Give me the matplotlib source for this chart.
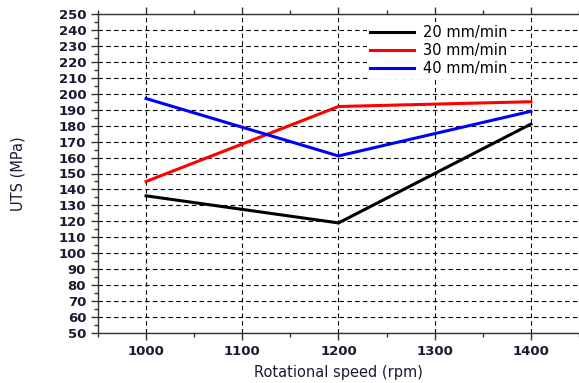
import matplotlib
matplotlib.use("Agg")
import matplotlib.pyplot as plt
from matplotlib.ticker import MultipleLocator

plt.rcParams['font.family'] = ['DejaVu Sans']

speed = [1000, 1200, 1400]
uts_20 = [136, 119, 181]
uts_30 = [145, 192, 195]
uts_40 = [197, 161, 189]
labels = ['20 mm/min', '30 mm/min', '40 mm/min']

fig = plt.figure(figsize=(5.79, 3.83), dpi=100)
ax = fig.add_axes([98 / 579, 50 / 383, 1 - 98 / 579, 319 / 383])

ax.plot(speed, uts_20, color='black', lw=2.2, label=labels[0])
ax.plot(speed, uts_30, color='#ff0000', lw=2.2, label=labels[1])
ax.plot(speed, uts_40, color='#0000ff', lw=2.2, label=labels[2])

ax.set_xlim(950, 1450)
ax.set_ylim(50, 250)
ax.xaxis.set_major_locator(MultipleLocator(100))
ax.xaxis.set_minor_locator(MultipleLocator(50))
ax.yaxis.set_major_locator(MultipleLocator(10))
ax.yaxis.set_minor_locator(MultipleLocator(5))

ax.grid(True, which='major', color='black', linestyle=(0, (4, 3)), lw=0.8)
ax.tick_params(which='both', direction='out', color='#333333', top=True,
               labelsize=9.5, labelcolor='#1a1a33')
ax.tick_params(which='major', length=5, width=1)
ax.tick_params(which='minor', length=3, width=1)
for lab in ax.get_xticklabels() + ax.get_yticklabels():
    lab.set_fontweight('bold')

for side in ['left', 'bottom', 'top']:
    ax.spines[side].set_color('#333333')
    ax.spines[side].set_linewidth(1)
ax.spines['right'].set_visible(False)

ax.set_xlabel('Rotational speed (rpm)', fontsize=10.5, color='#1a1a33', labelpad=5)
ax.set_ylabel('UTS (MPa)', fontsize=10.5, color='#1a1a33', labelpad=24)

leg = ax.legend(loc='upper left', bbox_to_anchor=(0.545, 0.997), frameon=True,
                fontsize=10.5, handlelength=3, handletextpad=0.6, labelspacing=0.2,
                borderpad=0.2)
leg.get_frame().set_edgecolor('none')
leg.get_frame().set_facecolor('white')
leg.get_frame().set_alpha(1)

fig.savefig('out.png', dpi=100)
